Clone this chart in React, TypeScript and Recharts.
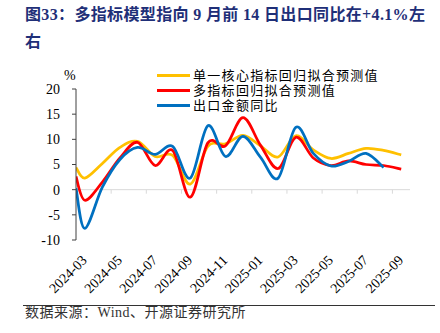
import React from "react";
import { LineChart, Line, XAxis, YAxis, ReferenceLine } from "recharts";

// ---- data ----
const months = [
  "2024-03", "2024-04", "2024-05", "2024-06", "2024-07", "2024-08", "2024-09",
  "2024-10", "2024-11", "2024-12", "2025-01", "2025-02", "2025-03", "2025-04",
  "2025-05", "2025-06", "2025-07", "2025-08", "2025-09",
];
// values at the left edge of the axis (where the curves begin)
const startSingle = 4.4;
const startMulti = 2.6;
const startExports = 0.3;

const singleFit = [2.3, 5.2, 8.4, 9.6, 6.6, 6.8, 1.1, 8.6, 9.1, 10.8, 8.7, 6.5, 10.7, 7.9, 6.2, 7.2, 8.2, 7.8, 6.9];
const multiFit = [-2.1, 1.5, 6.3, 9.4, 4.8, 7.8, -1.5, 9.3, 8.7, 14.3, 8.8, 4.2, 10.4, 6.3, 4.8, 5.7, 5.0, 4.8, 4.1];
const exportsYoY: (number | null)[] = [-7.7, 0.5, 6.0, 8.4, 7.0, 8.6, 2.3, 12.7, 6.6, 10.6, 6.4, 2.3, 12.4, 7.2, 4.7, 5.6, 7.2, 4.4, null];

const yTicks = [-10, -5, 0, 5, 10, 15, 20];
const labelMonths = months.filter((_, i) => i % 2 === 0);
const boundaryMarks = months.map((_, i) => i).filter((i) => i > 0 && i % 2 === 0);

const seriesNames = ["单一核心指标回归拟合预测值", "多指标回归拟合预测值", "出口金额同比"];
const seriesColors = ["#FFC000", "#FF0000", "#0070C0"];

const rows = [
  { x: 0, single: startSingle, multi: startMulti, exp: startExports },
  ...months.map((m, i) => ({
    x: i + 0.5,
    label: m,
    single: singleFit[i],
    multi: multiFit[i],
    exp: exportsYoY[i],
  })),
];
const xTicks = labelMonths.map((m) => months.indexOf(m) + 0.5);

// Catmull-Rom style smoothing (like Excel smoothed lines)
const smoothCurve: any = (ctx: any) => {
  let pts: number[][] = [];
  return {
    areaStart() {},
    areaEnd() {},
    lineStart() {
      pts = [];
    },
    point(x: number, y: number) {
      pts.push([+x, +y]);
    },
    lineEnd() {
      if (!pts.length) return;
      ctx.moveTo(pts[0][0], pts[0][1]);
      if (pts.length === 1) return;
      for (let i = 0; i < pts.length - 1; i++) {
        const p0 = pts[i - 1] || pts[i];
        const p1 = pts[i];
        const p2 = pts[i + 1];
        const p3 = pts[i + 2] || p2;
        ctx.bezierCurveTo(
          p1[0] + (p2[0] - p0[0]) / 6,
          p1[1] + (p2[1] - p0[1]) / 6,
          p2[0] - (p3[0] - p1[0]) / 6,
          p2[1] - (p3[1] - p1[1]) / 6,
          p2[0],
          p2[1]
        );
      }
    },
  };
};

const serif = '"Liberation Serif", "Times New Roman", serif';
const cjk = '"Liberation Serif", "Noto Sans CJK SC", serif';

const XTick = (props: any) => {
  const { x, y, payload } = props;
  const idx = Math.round(payload.value - 0.5);
  const ax = x + 3;
  const ay = y + 21;
  return (
    <text
      x={ax}
      y={ay}
      transform={`rotate(-45, ${ax}, ${ay})`}
      textAnchor="end"
      fontSize={14}
      fontFamily={serif}
      fill="#000"
    >
      {months[idx]}
    </text>
  );
};

export default function App() {
  return (
    <div
      style={{
        position: "absolute",
        left: 0,
        top: 0,
        width: 440,
        height: 333,
        background: "#fff",
        overflow: "hidden",
      }}
    >
      <div
        style={{
          position: "absolute",
          left: 25,
          top: 4,
          lineHeight: "21px",
          fontSize: 16,
          fontWeight: "bold",
          fontFamily: cjk,
          color: "#1F2F78",
          whiteSpace: "nowrap",
          letterSpacing: 0.35,
        }}
      >
        图33：多指标模型指向 9 月前 14 日出口同比在+4.1%左
      </div>
      <div
        style={{
          position: "absolute",
          left: 25,
          top: 30.5,
          lineHeight: "21px",
          fontSize: 16,
          fontWeight: "bold",
          fontFamily: cjk,
          color: "#1F2F78",
          whiteSpace: "nowrap",
        }}
      >
        右
      </div>

      <LineChart
        width={440}
        height={333}
        data={rows}
        margin={{ top: 89, right: 30, bottom: 33, left: 26 }}
        style={{ position: "absolute", left: 0, top: 0 }}
      >
        <XAxis
          dataKey="x"
          type="number"
          domain={[0, 19]}
          ticks={xTicks}
          tick={<XTick />}
          tickLine={false}
          axisLine={false}
          tickSize={0}
          tickMargin={0}
          height={60}
          interval={0}
          allowDataOverflow
        />
        <YAxis
          domain={[-10, 20]}
          ticks={yTicks}
          width={50}
          tickSize={4}
          tickMargin={12}
          axisLine={{ stroke: "#404040", strokeWidth: 1 }}
          tickLine={{ stroke: "#404040", strokeWidth: 1 }}
          tick={{ fontSize: 14, fontFamily: serif, fill: "#000" }}
          allowDataOverflow
        />
        <ReferenceLine y={0} stroke="#D9D9D9" strokeWidth={1} />
        {boundaryMarks.map((b) => (
          <ReferenceLine
            key={b}
            segment={[
              { x: b, y: 0 },
              { x: b, y: -0.8 },
            ]}
            stroke="#D9D9D9"
            strokeWidth={1}
          />
        ))}
        <Line
          dataKey="single"
          name={seriesNames[0]}
          stroke={seriesColors[0]}
          strokeWidth={2.75}
          dot={false}
          type={smoothCurve}
          isAnimationActive={false}
        />
        <Line
          dataKey="multi"
          name={seriesNames[1]}
          stroke={seriesColors[1]}
          strokeWidth={2.75}
          dot={false}
          type={smoothCurve}
          isAnimationActive={false}
        />
        <Line
          dataKey="exp"
          name={seriesNames[2]}
          stroke={seriesColors[2]}
          strokeWidth={2.75}
          dot={false}
          type={smoothCurve}
          isAnimationActive={false}
        />
      </LineChart>

      <div
        style={{
          position: "absolute",
          left: 64,
          top: 67,
          fontSize: 14,
          fontFamily: serif,
          color: "#000",
          lineHeight: "18px",
        }}
      >
        %
      </div>

      <div style={{ position: "absolute", left: 157, top: 67.5 }}>
        {seriesNames.map((n, i) => (
          <div key={n} style={{ display: "flex", alignItems: "center", height: 15 }}>
            <div style={{ width: 33, height: 3, background: seriesColors[i], marginRight: 3 }} />
            <span
              style={{
                fontSize: 13,
                fontFamily: cjk,
                color: "#000",
                letterSpacing: 1.3,
                lineHeight: "15px",
                whiteSpace: "nowrap",
              }}
            >
              {n}
            </span>
          </div>
        ))}
      </div>

      <div
        style={{
          position: "absolute",
          left: 23,
          top: 305,
          width: 412,
          height: 1,
          background: "#333",
        }}
      />
      <div
        style={{
          position: "absolute",
          left: 25,
          top: 304,
          fontSize: 14,
          fontFamily: cjk,
          color: "#333",
          lineHeight: "18px",
          letterSpacing: 0.5,
          whiteSpace: "nowrap",
        }}
      >
        数据来源：Wind、开源证券研究所
      </div>
    </div>
  );
}
